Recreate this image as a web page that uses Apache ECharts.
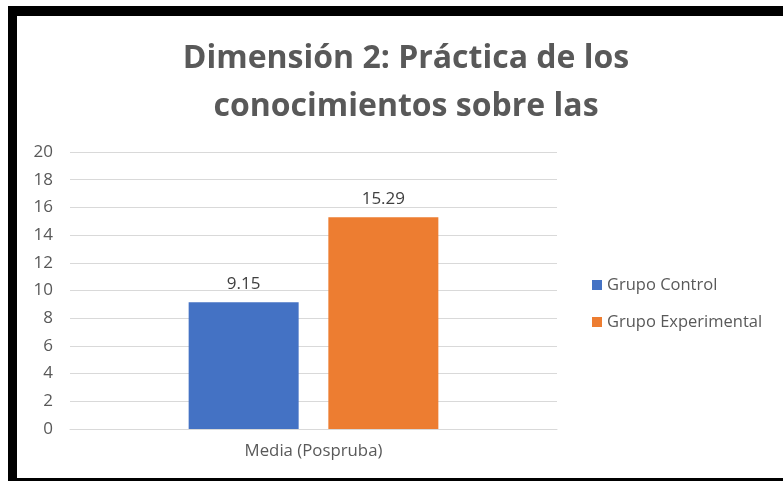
<!DOCTYPE html>
<html><head><meta charset="utf-8">
<script src="https://cdn.jsdelivr.net/npm/echarts@6/dist/echarts.min.js"></script>
<style>html,body{margin:0;padding:0;background:#fff;}#c{width:783px;height:481px;}</style>
</head><body><div id="c"></div>
<script>
const categories = ['Media (Pospruba)'];
const seriesNames = ['Grupo Control', 'Grupo Experimental'];
const controlValues = [9.15];
const experimentalValues = [15.29];
const yTicks = {min: 0, max: 20, interval: 2};
const titleText = 'Dimensión 2: Práctica de los\nconocimientos sobre las';

const chart = echarts.init(document.getElementById('c'), null, {renderer: 'canvas'});
const labelStyle = {show: true, position: 'top', distance: 10, color: '#404040', fontSize: 17, fontFamily: 'Open Sans', formatter: p => p.value.toFixed(2)};
chart.setOption({
  animation: false,
  backgroundColor: '#fff',
  title: {
    text: titleText, left: 401, textAlign: 'center', top: 30,
    textStyle: {fontFamily: 'Open Sans', fontWeight: 'bold', fontSize: 32, color: '#595959', lineHeight: 48}
  },
  legend: {
    orient: 'vertical', left: 587, top: 269, itemWidth: 10, itemHeight: 10, itemGap: 15,
    icon: 'rect', data: seriesNames,
    textStyle: {fontFamily: 'Open Sans', fontSize: 16.5, color: '#595959', lineHeight: 22}
  },
  grid: {left: 70, right: 226, top: 152, bottom: 52},
  xAxis: {
    type: 'category', data: categories,
    axisLine: {lineStyle: {color: '#d9d9d9'}}, axisTick: {show: false},
    axisLabel: {color: '#595959', fontSize: 16.8, fontFamily: 'Open Sans', margin: 14}
  },
  yAxis: {
    type: 'value', min: yTicks.min, max: yTicks.max, interval: yTicks.interval,
    axisLine: {show: false}, axisTick: {show: false},
    splitLine: {lineStyle: {color: '#d9d9d9'}},
    axisLabel: {color: '#595959', fontSize: 17, fontFamily: 'Open Sans', margin: 17}
  },
  series: [
    {name: seriesNames[0], type: 'bar', data: controlValues, barWidth: 110, barGap: '27%', itemStyle: {color: '#4472C4'}, label: labelStyle},
    {name: seriesNames[1], type: 'bar', data: experimentalValues, barWidth: 110, itemStyle: {color: '#ED7D31'}, label: labelStyle}
  ],
  graphic: [
    {type: 'rect', shape: {x: 8, y: 6, width: 775, height: 10}, style: {fill: '#000'}},
    {type: 'rect', shape: {x: 8, y: 6, width: 9, height: 475}, style: {fill: '#000'}},
    {type: 'rect', shape: {x: 8, y: 478, width: 775, height: 3}, style: {fill: '#000'}}
  ]
});
</script></body></html>
